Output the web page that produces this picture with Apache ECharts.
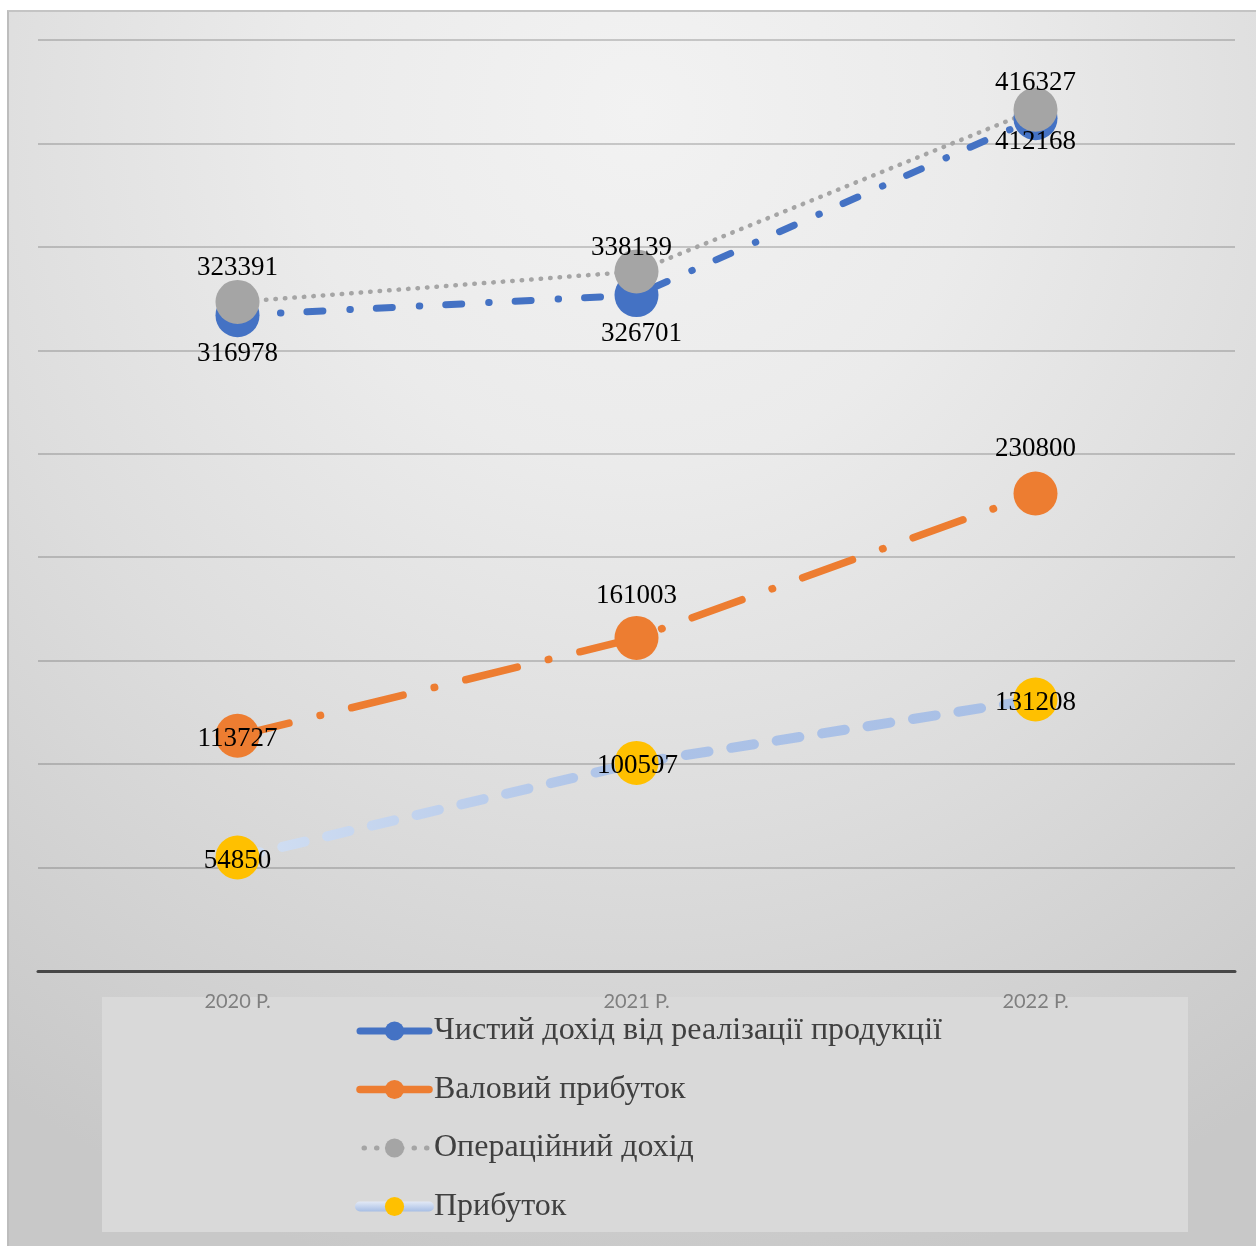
<!DOCTYPE html>
<html>
<head>
<meta charset="utf-8">
<script src="https://cdn.jsdelivr.net/npm/echarts@6/dist/echarts.min.js"></script>
<style>
html,body{margin:0;padding:0;background:#fff;overflow:hidden;width:1256px;height:1246px;}
#frame{position:absolute;left:7px;top:10px;width:1262px;height:1250px;box-sizing:border-box;border-left:2px solid #bdbdbd;border-top:2px solid #c4c4c4;
background:radial-gradient(ellipse 90% 95% at 50% 8%, #f2f2f2 0%, #ebebeb 30%, #dddddd 60%, #c8c8c8 100%);}
#chart{position:absolute;left:0;top:0;width:1256px;height:1246px;}
</style>
</head>
<body>
<div id="frame"></div>
<div id="chart"></div>
<script>
// ---- data ----
const categories = ['2020 Р.', '2021 Р.', '2022 Р.'];
const seriesNames = ['Чистий дохід від реалізації продукції', 'Валовий прибуток', 'Операційний дохід', 'Прибуток'];
const netIncome = [316978, 326701, 412168];
const grossProfit = [113727, 161003, 230800];
const operatingIncome = [323391, 338139, 416327];
const profit = [54850, 100597, 131208];
const yMin = 0, yMax = 450000, yStep = 50000;

// ---- label placement (style, not data) ----
const labelOffsets = {
  net: [[0, 39], [5, 39], [0, 24]],
  gross: [[0, 3], [0, -42], [0, -45]],
  oper: [[0, -34], [-5, -24], [0, -27]],
  profit: [[0, 3], [1, 3], [0, 3]]
};
const labelFont = { fontFamily: 'Liberation Serif', fontSize: 27, color: '#000' };
function withLabels(values, offs) {
  return values.map((v, i) => ({
    value: v,
    label: Object.assign({ show: true, position: 'inside', offset: offs[i] }, labelFont)
  }));
}

const lightBlueVert = new echarts.graphic.LinearGradient(0, 0, 0, 1, [
  { offset: 0, color: '#e2e9f6' }, { offset: 1, color: '#a7bee5' }
]);

const chart = echarts.init(document.getElementById('chart'), null, { renderer: 'canvas' });
const option = {
  backgroundColor: 'transparent',
  animation: false,
  grid: { left: 38, right: 21, top: 40, bottom: 275, containLabel: false },
  graphic: {
    elements: [{
      type: 'rect', z: -10, silent: true,
      shape: { x: 102, y: 997, width: 1086, height: 235 },
      style: { fill: '#d9d9d9' }
    }]
  },
  xAxis: {
    type: 'category', data: categories, boundaryGap: true,
    axisTick: { show: false },
    axisLine: { lineStyle: { color: '#474747', width: 3 } },
    axisLabel: { color: '#7f7f7f', fontFamily: 'Lato', fontSize: 20, margin: 21 }
  },
  yAxis: {
    type: 'value', min: yMin, max: yMax, interval: yStep,
    axisLabel: { show: false }, axisLine: { show: false }, axisTick: { show: false },
    splitLine: { lineStyle: { color: 'rgba(70,70,70,0.33)', width: 1.5 } }
  },
  legend: {
    orient: 'vertical', left: 350, top: 1010,
    itemWidth: 69, itemHeight: 24, itemGap: 26.5,
    textStyle: { fontFamily: 'Liberation Serif', fontSize: 32, color: '#404040', lineHeight: 32 },
    data: [
      { name: seriesNames[0], lineStyle: { width: 7, type: 'solid', cap: 'round' } },
      { name: seriesNames[1], lineStyle: { width: 7.5, type: 'solid', cap: 'round' } },
      { name: seriesNames[2], lineStyle: { width: 5, type: [0.5, 12], dashOffset: -4, cap: 'round' } },
      { name: seriesNames[3], lineStyle: { width: 10, type: 'solid', cap: 'round', color: lightBlueVert } }
    ]
  },
  series: [
    {
      name: seriesNames[0], type: 'line', data: withLabels(netIncome, labelOffsets.net),
      symbol: 'circle', symbolSize: 44,
      itemStyle: { color: '#4472c4' },
      lineStyle: { color: '#4472c4', width: 7, type: [16, 27, 0.5, 26], cap: 'round' }
    },
    {
      name: seriesNames[1], type: 'line', data: withLabels(grossProfit, labelOffsets.gross),
      symbol: 'circle', symbolSize: 44,
      itemStyle: { color: '#ed7d31' },
      lineStyle: { color: '#ed7d31', width: 7.5, type: [53, 32, 0.5, 32], cap: 'round' }
    },
    {
      name: seriesNames[2], type: 'line', data: withLabels(operatingIncome, labelOffsets.oper),
      symbol: 'circle', symbolSize: 44,
      itemStyle: { color: '#a5a5a5' },
      lineStyle: { color: '#a5a5a5', width: 4.5, type: [0.5, 9], cap: 'round' }
    },
    {
      name: seriesNames[3], type: 'line', data: withLabels(profit, labelOffsets.profit),
      symbol: 'circle', symbolSize: 44,
      itemStyle: { color: '#ffc000' },
      lineStyle: {
        width: 10, type: [23, 23], cap: 'round',
        color: new echarts.graphic.LinearGradient(0, 0, 1, 0, [
          { offset: 0, color: '#d3e0f3' }, { offset: 0.5, color: '#acc2e7' }, { offset: 1, color: '#a9c0e6' }
        ])
      }
    }
  ]
};
chart.setOption(option);
</script>
</body>
</html>
